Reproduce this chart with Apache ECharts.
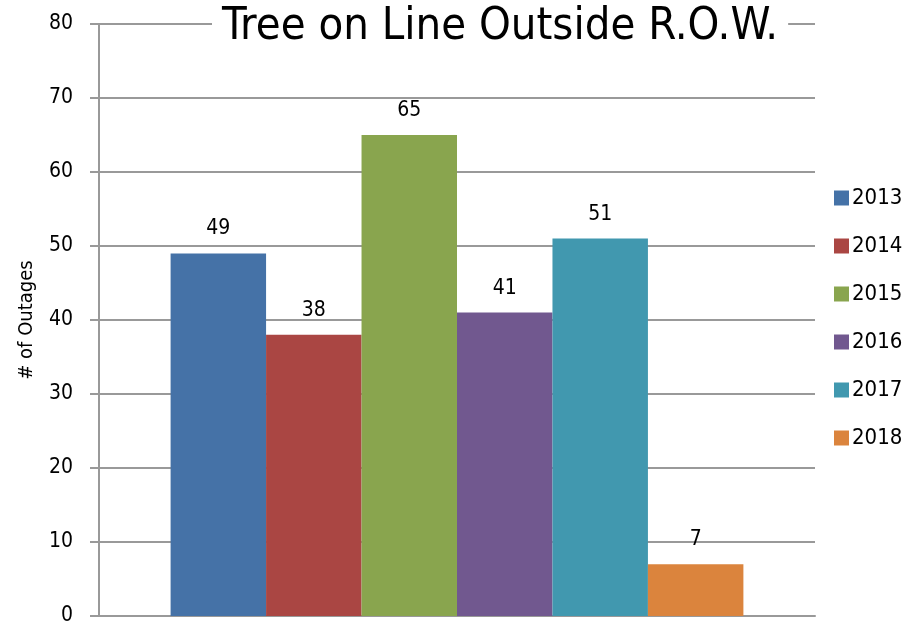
<!DOCTYPE html>
<html><head><meta charset="utf-8">
<script src="https://cdn.jsdelivr.net/npm/echarts@6/dist/echarts.min.js"></script>
<style>html,body{margin:0;padding:0;background:#fff}#c{width:905px;height:628px}</style>
</head><body><div id="c"></div>
<script>
const seriesNames = ['2013','2014','2015','2016','2017','2018'];
const values = [49, 38, 65, 41, 51, 7];
const colors = ['#4572A7','#AA4643','#89A54E','#71588F','#4198AF','#DB843D'];
const yTicks = [0,10,20,30,40,50,60,70,80];
const titleText = 'Tree on Line Outside R.O.W.';
const FONT = '"DejaVu Sans Condensed", "Open Sans", sans-serif';
const chart = echarts.init(document.getElementById('c'));
chart.setOption({
  animation: false,
  title: {
    text: titleText, left: 212, top: 5,
    backgroundColor: '#fff', padding: [0, 10],
    textStyle: { fontFamily: FONT, fontSize: 45, fontWeight: 'normal', color: '#000' }
  },
  legend: {
    orient: 'vertical', left: 829, top: 182, itemWidth: 15, itemHeight: 15, itemGap: 26,
    icon: 'rect',
    textStyle: { fontFamily: FONT, fontSize: 22, color: '#000', padding: [0,0,0,-2] },
    data: seriesNames
  },
  grid: { left: 99, right: 90, top: 24, bottom: 12, containLabel: false },
  xAxis: {
    type: 'category', data: [''],
    axisLine: { lineStyle: { color: '#999', width: 2 } },
    axisTick: { show: false }, axisLabel: { show: false }
  },
  yAxis: {
    type: 'value', min: 0, max: 80, interval: 10,
    name: '# of Outages', nameLocation: 'middle', nameGap: 62, nameRotate: 90,
    nameTextStyle: { fontFamily: FONT, fontSize: 20, color: '#000' },
    axisLine: { show: true, lineStyle: { color: '#999', width: 2 } },
    axisTick: { show: true, length: 9, lineStyle: { color: '#999', width: 2 } },
    axisLabel: { fontFamily: FONT, fontSize: 21, color: '#000', margin: 26, padding: [5, 0, 0, 0] },
    splitLine: { lineStyle: { color: '#999', width: 2 } }
  },
  series: seriesNames.map((n, i) => ({
    name: n, type: 'bar', data: [values[i]],
    barGap: '0%', barCategoryGap: '20%',
    itemStyle: { color: colors[i] },
    label: { show: true, position: 'top', distance: 14, fontFamily: FONT, fontSize: 21, color: '#000' }
  }))
});
</script></body></html>
